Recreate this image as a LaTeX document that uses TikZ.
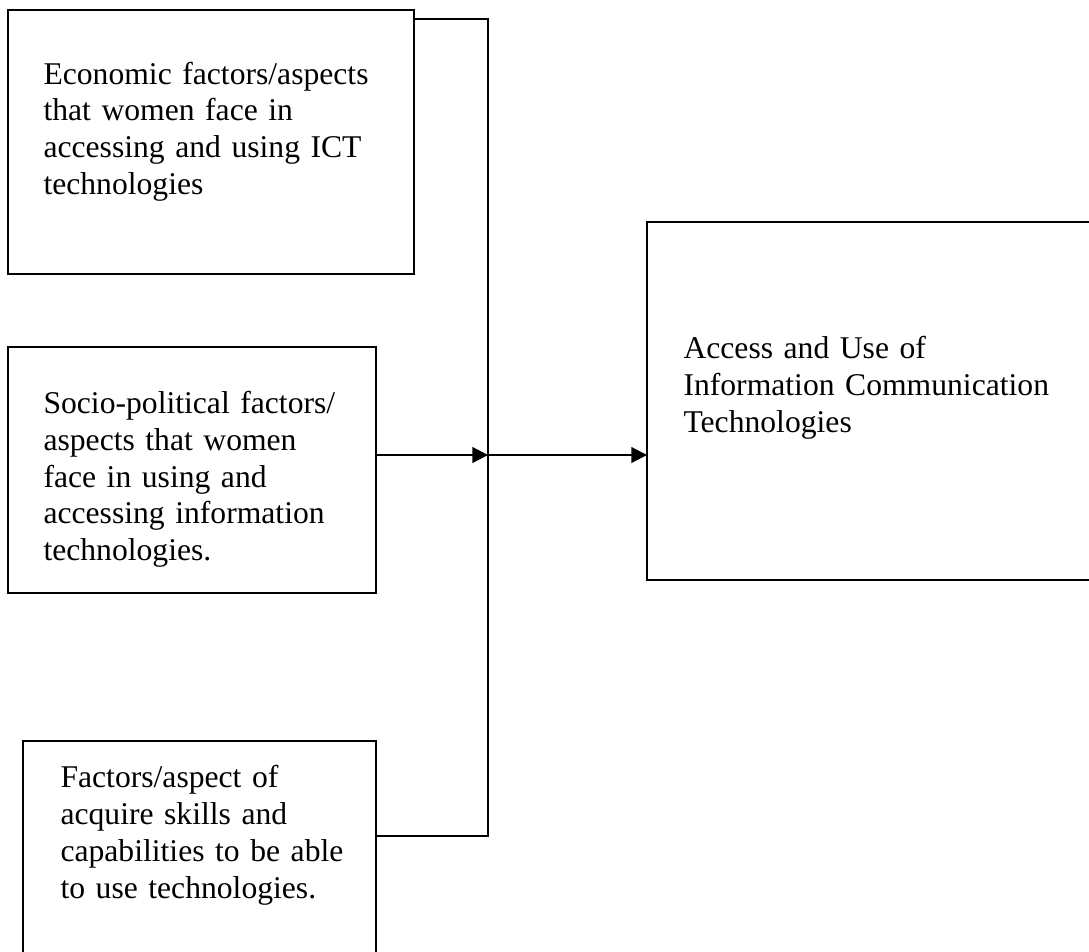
\documentclass[tikz,border=0pt]{standalone}
\usepackage{fontspec}
\setmainfont{Liberation Serif}
\usetikzlibrary{arrows.meta}
\begin{document}
\begin{tikzpicture}[x=0.373pt,y=-0.373pt,
  box/.style={draw,line width=0.8pt,rectangle,inner sep=0pt,outer sep=0pt,anchor=north west},
  txt/.style={anchor=base west,inner sep=0pt,align=left,text width=250pt,font={\fontsize{11.8}{13.8}\selectfont}},
  link/.style={line width=0.8pt},
  arr/.style={line width=0.8pt,-{Triangle[length=5.8pt,width=5.8pt]}}]
\useasboundingbox (0,0) rectangle (1089,951);
\clip (0,0) rectangle (1089,951);
\node[box,minimum width=406*0.373pt,minimum height=264*0.373pt] (b1) at (8,10) {};
\node[box,minimum width=368*0.373pt,minimum height=246*0.373pt] (b2) at (8,347) {};
\node[box,minimum width=353*0.373pt,minimum height=240*0.373pt] (b3) at (23,741) {};
\node[box,minimum width=460*0.373pt,minimum height=358*0.373pt] (b4) at (647,222) {};
\node[txt] (t1) at (43,84) {Economic factors/aspects\\that women face in\\accessing and using ICT\\technologies};
\node[txt] (t2) at (43,413) {Socio-political factors/\\aspects that women\\face in using and\\accessing information\\technologies.};
\node[txt] (t3) at (60,787) {Factors/aspect of\\acquire skills and\\capabilities to be able\\to use technologies.};
\node[txt] (t4) at (683,358) {Access and Use of\\Information Communication\\Technologies};
\coordinate (jt) at (488,19);
\coordinate (jm) at (488,455);
\coordinate (jb) at (488,836);
\draw[link] (b1.east |- jt) -- (jt) -- (jb) -- (b3.east |- jb);
\draw[arr] (b2.east |- jm) -- (jm);
\draw[arr] (jm) -- (b4.west |- jm);
\end{tikzpicture}
\end{document}
